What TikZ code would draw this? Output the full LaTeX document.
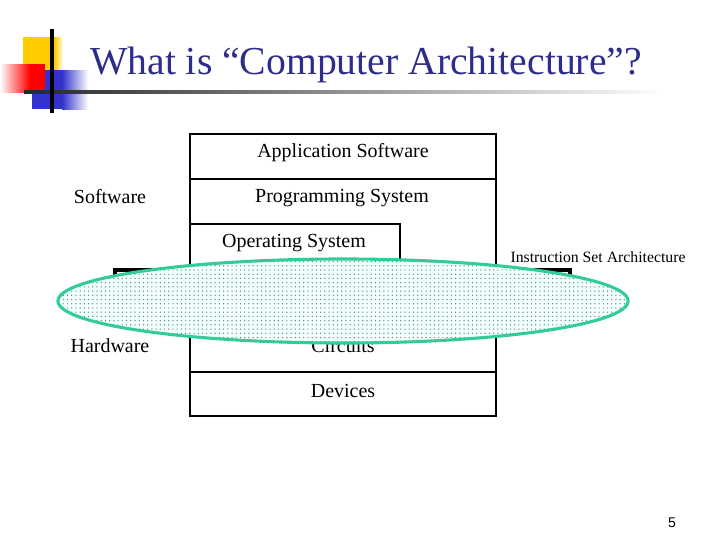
\documentclass[tikz,border=0pt]{standalone}
\usepackage{fontspec}
\setmainfont{Liberation Serif}
\newfontfamily\zahlfont{Liberation Sans}
\usetikzlibrary{patterns,calc}

\definecolor{titelblau}{RGB}{45,45,140}
\definecolor{logogelb}{RGB}{255,204,0}
\definecolor{logorot}{RGB}{255,0,0}
\definecolor{logoblau}{RGB}{51,51,204}
\definecolor{isarand}{RGB}{51,204,153}
\definecolor{isapunkt}{RGB}{85,140,140}
\definecolor{isagrund}{RGB}{242,255,252}

\tikzset{
  schicht/.style={font=\fontsize{14.2}{17}\selectfont},
  klein/.style={font=\fontsize{11.2}{13}\selectfont},
  rahmen/.style={line width=1.4pt},
  dick/.style={line width=2.2pt},
}

\begin{document}
\begin{tikzpicture}[x=0.025cm,y=-0.025cm]
\useasboundingbox (0,0) rectangle (720,540);

% Grenzen der Schichten
\def\xl{190}
\def\xr{496}
\def\xos{400}

% ------------------- Logo -------------------
\fill[logogelb] (23,37) rectangle (55,70);
\shade[left color=logogelb,right color=white] (55,37) rectangle (63,70);
\fill[logoblau] (32,70) rectangle (62,109);
\shade[left color=logoblau,right color=white] (62,70) rectangle (88,109);
\shade[left color=white,right color=logorot] (0,64) rectangle (30,92);
\fill[logorot] (30,64) rectangle (45,92);
\shade[left color=black!85,right color=white] (24,90.5) rectangle (665,93.5);
\draw[dick] (52,29) -- (52,113);

% Titel
\node[font=\fontsize{28.2}{32}\selectfont, text=titelblau] (titel) at (366,65)
  {What is “Computer Architecture”?};

% ------------------- Schichten -------------------
\draw[rahmen] (\xl,134) rectangle (\xr,416);
\draw[rahmen] (\xl,179) -- (\xr,179);
\draw[rahmen] (\xl,224) -- (\xos,224) -- (\xos,280);
\draw[rahmen] (\xl,372) -- (\xr,372);

\node[schicht] (app)  at (343,153) {Application Software};
\node[schicht] (prog) at (342,198) {Programming System};
\node[schicht] (os)   at (294,243) {Operating System};
\node[schicht] (circ) at (343,346) {Circuits};
\node[schicht] (dev)  at (343,391) {Devices};

\node[schicht] (sw) at (110,197) {Software};
\node[schicht] (hw) at (110,346) {Hardware};

% ISA
\draw[dick] (115,295) |- (570,270) -- (570,295);
\node[klein] (isa) at (598,257) {Instruction Set Architecture};

\draw[isarand, dick, preaction={fill=isagrund}, pattern=dots, pattern color=isapunkt]
  (343,301) ellipse [x radius=7.125cm, y radius=1.05cm];

% Seitenzahl
\node[font=\zahlfont\fontsize{10}{12}\selectfont] (seite) at (672,523) {5};

\end{tikzpicture}
\end{document}
